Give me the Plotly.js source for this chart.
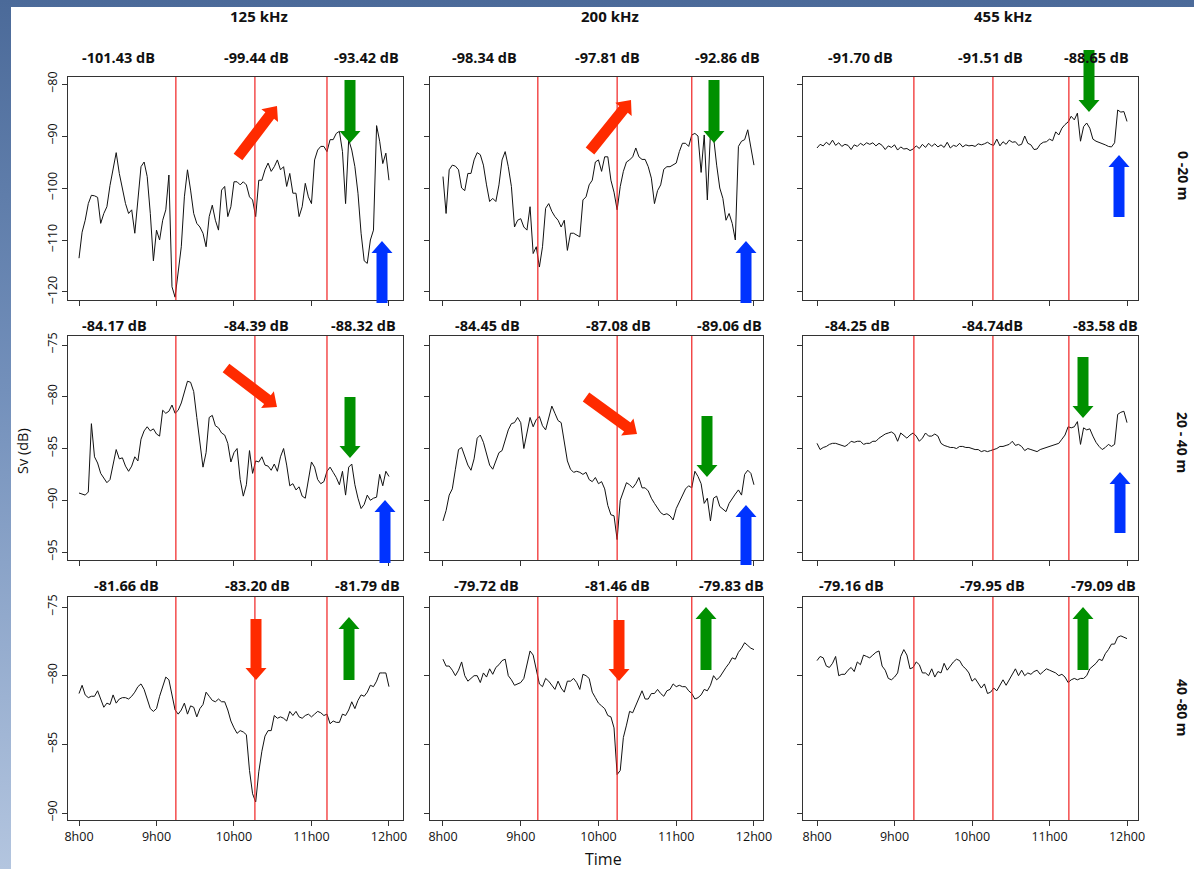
<!DOCTYPE html>
<html><head><meta charset="utf-8">
<script src="https://cdn.plot.ly/plotly-3.0.1.min.js"></script>
<style>
html,body{margin:0;padding:0;overflow:hidden;}
#chart{width:1194px;height:869px;background:linear-gradient(to bottom,#4b6a99 0%,#7390bb 45%,#b3c5df 100%);}
</style></head><body><div id="chart"></div>
<script>
// ---------------- DATA ----------------
const times = [8.00,8.04,8.08,8.12,8.16,8.20,8.24,8.28,8.32,8.36,
8.40,8.44,8.48,8.52,8.56,8.60,8.64,8.68,8.72,8.76,
8.80,8.84,8.88,8.92,8.96,9.00,9.04,9.08,9.12,9.16,
9.20,9.24,9.28,9.32,9.36,9.40,9.44,9.48,9.52,9.56,
9.60,9.64,9.68,9.72,9.76,9.80,9.84,9.88,9.92,9.96,
10.00,10.04,10.08,10.12,10.16,10.20,10.24,10.28,10.32,10.36,
10.40,10.44,10.48,10.52,10.56,10.60,10.64,10.68,10.72,10.76,
10.80,10.84,10.88,10.92,10.96,11.00,11.04,11.08,11.12,11.16,
11.20,11.24,11.28,11.32,11.36,11.40,11.44,11.48,11.52,11.56,
11.60,11.64,11.68,11.72,11.76,11.80,11.84,11.88,11.92,11.96,
12.00];

const frequencies = ["125 kHz","200 kHz","455 kHz"];
const depthLayers = ["0 -20 m","20 - 40 m","40 -80 m"];
const xTickVals = [8,9,10,11,12];
const xTickText = ["8h00","9h00","10h00","11h00","12h00"];
const yTicksByRow = [[-80,-90,-100,-110,-120],[-75,-80,-85,-90,-95],[-75,-80,-85,-90]];
const periodBounds = [[9.25,10.27,11.2],[9.22,10.24,11.2],[9.25,10.27,11.25]];

const sv125_0_20 = [-113.5,-108.5,-106.2,-103,-101.4,-101.5,-101.8,-106.8,-104.9,-103.6,
-99.5,-96.5,-93.2,-97.2,-100.4,-103,-104.9,-104.2,-108.7,-102.3,
-95.9,-95,-97.8,-104.9,-114,-108.1,-110,-106.2,-104.2,-97.5,
-119,-121,-116,-111.3,-101.7,-96.5,-100.4,-104.9,-106.8,-107.5,
-108.7,-111.3,-105.5,-103.3,-106.2,-108.1,-100.4,-99.7,-105.5,-103.6,
-98.8,-98.8,-99.4,-98.8,-99.4,-101.7,-102.3,-105.5,-98.5,-98.5,
-96.5,-95.2,-96.8,-95.9,-94.6,-96.5,-95.9,-99.7,-97.2,-101,
-101,-105.5,-103.6,-99.1,-101.7,-103,-94.6,-92.7,-92,-92,
-93,-90.7,-90.7,-89.5,-89.1,-93,-103,-90.7,-92.7,-95.9,
-101,-108.7,-114,-114.5,-110,-108.1,-88,-91,-95.3,-93.3,
-98.5];
const sv200_0_20 = [-97.8,-104.9,-96.5,-95.6,-95.8,-96.5,-100,-100.5,-97.2,-97.2,
-94.6,-93.2,-93.6,-95.6,-99.4,-102.6,-102,-102.6,-99.4,-94.6,
-93,-95.9,-99.7,-107.5,-106.2,-105.9,-107.5,-108.1,-103.6,-112.6,
-111.3,-115.2,-111.3,-103.9,-103,-104.5,-105.5,-106.2,-107.5,-106.2,
-112,-108.7,-108.7,-109,-109.4,-102.3,-101.7,-99.4,-98.5,-95,
-94.6,-96.8,-94,-94,-98.5,-100.8,-104.2,-99.7,-96.8,-95,
-94.6,-94,-92.3,-94,-94.5,-94.5,-95.9,-98.1,-103,-100.5,
-99.4,-96.4,-95.9,-95.9,-95.6,-95.2,-93,-91.4,-91.4,-92,
-89.8,-89.5,-90,-97,-89.8,-102.3,-89.5,-90.2,-95.6,-100,
-102,-106.2,-104.9,-106.8,-110,-92,-91,-90.7,-88.8,-92,
-95.6];
const sv455_0_20 = [-92.3,-91.6,-91.9,-91.2,-91.7,-90.8,-91.8,-91.3,-92,-91.6,
-91.8,-92.6,-91.7,-92,-91.4,-91.8,-91.3,-91.6,-91.3,-91.9,
-91.4,-91.8,-92.6,-91.9,-92.2,-91.7,-92.7,-92.1,-92.5,-92.4,
-92.8,-92.5,-91.9,-92.4,-91.6,-92.2,-91.4,-92,-91.5,-92.1,
-91.7,-92.2,-91.2,-92.3,-91.8,-92,-91.4,-92.1,-91.7,-91.9,
-91.8,-92,-91.5,-91.7,-91.5,-91.2,-91.6,-91.8,-90.6,-91.9,
-91.1,-91.6,-90.8,-91.2,-91.1,-91.8,-91.6,-90,-91.4,-91.7,
-92.6,-92.5,-91.6,-91.2,-91.1,-90.6,-90.9,-89.2,-89.8,-88.5,
-87.8,-87.3,-86.2,-86.9,-85.6,-91,-88.2,-87.5,-88.5,-90.6,
-91,-91.2,-91.4,-91.7,-92,-92.1,-91.3,-85,-85.4,-85.3,
-87.2];
const sv125_20_40 = [-89.3,-89.4,-89.5,-89.2,-82.6,-85.8,-86.4,-87.4,-87.8,-88.3,
-88,-86.4,-85.1,-86,-85.9,-86.7,-87.2,-86.7,-85.8,-86.2,
-84.1,-83.3,-82.9,-83.3,-83.1,-83.6,-83.8,-81.3,-81.6,-81.4,
-80.8,-81.6,-81.3,-80.6,-79.6,-78.5,-78.6,-79.5,-82,-84.2,
-86.8,-85.4,-82,-81.8,-82.8,-83,-83.5,-83.7,-84.5,-86.3,
-85.4,-85,-88,-89.6,-88.5,-85.2,-87.4,-86.2,-86.3,-85.8,
-86.6,-86.7,-87.1,-86.5,-87.2,-85.8,-85,-86.6,-88.6,-88.4,
-89,-88.7,-89.6,-89.8,-88,-86.3,-86.8,-88,-88.4,-88.2,
-87.2,-86.8,-87.3,-87.8,-88.5,-87.2,-89.5,-86.8,-86.5,-88.5,
-89.8,-90.8,-90.4,-89.5,-90,-89.8,-89.7,-87.5,-88.6,-87.2,
-87.7];
const sv200_20_40 = [-92,-91,-89.5,-88.9,-87,-85.1,-84.9,-85.7,-86.6,-87.1,
-86,-84,-83.7,-84.4,-85.6,-86.6,-87,-86.2,-85.4,-85.2,
-84.3,-83.2,-82.6,-82.5,-82,-82.5,-85,-83.3,-82,-82.9,
-82.2,-81.9,-82.8,-83.2,-82,-80.9,-81.6,-82.3,-82.5,-84.2,
-86.2,-87,-87.3,-87.2,-87.3,-87.5,-87.3,-88,-88.2,-87.8,
-88.4,-88.2,-88.9,-90.5,-91.4,-91.5,-93.8,-90,-89.2,-88.3,
-88.5,-88.8,-88.4,-87.8,-88.8,-88.8,-89.1,-89.8,-90.3,-90.8,
-91.2,-91.4,-91.3,-91.5,-91.9,-90.8,-90.2,-89.6,-88.9,-88.6,
-88.8,-87.2,-87.7,-88.4,-90.3,-89.8,-92,-89.8,-89.6,-90.6,
-90.9,-91.1,-90.3,-89.8,-89.4,-89,-89.5,-87.5,-87.1,-87.4,
-88.5];
const sv455_20_40 = [-84.5,-85.1,-84.9,-84.8,-84.6,-84.5,-84.5,-84.6,-84.7,-84.8,
-84.6,-84.3,-84.4,-84.3,-84.3,-84.6,-84.5,-84.5,-84.3,-84.3,
-84,-83.8,-83.6,-83.5,-83.4,-83.6,-84.3,-83.5,-83.8,-84,
-83.7,-83.5,-83.8,-84.3,-84,-83.5,-83.8,-83.8,-83.6,-83.8,
-84.5,-84.7,-84.8,-84.9,-84.9,-85,-84.8,-84.8,-84.9,-84.9,
-85,-85.1,-85.1,-85.3,-85.2,-85.3,-85.2,-85.1,-85,-84.8,
-84.8,-84.7,-84.6,-84.3,-84.7,-84.6,-84.8,-85.2,-85,-85.1,
-85.2,-85.3,-85.1,-85,-84.9,-84.8,-84.7,-84.6,-84.5,-84.1,
-83.7,-82.9,-83,-82.9,-82.4,-84.6,-83,-83.2,-83.1,-83.8,
-84.4,-84.8,-85.1,-84.9,-84.6,-84.8,-84.6,-81.7,-81.5,-81.4,
-82.5];
const sv125_40_80 = [-81.3,-80.7,-81.4,-81.6,-81.5,-81.5,-81.1,-81.7,-82.3,-82,
-82.1,-81.4,-82,-81.7,-81.6,-81.6,-81.7,-81.5,-81.2,-80.8,
-80.6,-81,-81.8,-82.4,-82.6,-82.4,-81.5,-80.7,-80.1,-80.3,
-81.4,-82.5,-82.8,-82.5,-82,-82.8,-82.2,-82.3,-83,-82.4,
-82.1,-81.2,-81.5,-81.8,-81.9,-81.7,-81.9,-81.9,-82.5,-83.3,
-83.8,-84.2,-84,-84.1,-84.3,-86.9,-88.6,-89.2,-87,-85.5,
-84.4,-84,-84,-82.9,-83.1,-83,-83.1,-83.3,-82.6,-82.9,
-82.6,-83,-83.1,-82.9,-82.8,-83,-82.8,-82.6,-82.7,-82.9,
-82.8,-83.5,-83.3,-83.4,-83.4,-82.8,-82.9,-82.5,-81.9,-82.4,
-81.8,-81.4,-81.5,-81.2,-80.7,-80.8,-80.4,-79.8,-79.8,-79.8,
-80.8];
const sv200_40_80 = [-78.8,-79.3,-79.3,-79.6,-80,-79.6,-79,-80,-80.4,-80.2,
-80,-80,-80.5,-79.8,-80.1,-79.5,-79.9,-79.4,-79.2,-78.9,
-78.8,-80,-80.3,-80.7,-80.6,-80.5,-80.2,-79.2,-78.2,-78.5,
-79.5,-80.6,-80.8,-80.2,-80.4,-80.7,-81,-80.4,-80.9,-81.2,
-80.4,-80.4,-80.2,-80.5,-81,-79.9,-80,-80.2,-81.2,-81.6,
-82,-82.2,-82.4,-82.9,-83,-83.8,-87.2,-86.9,-84.5,-83.6,
-82.6,-82.7,-82.2,-81.6,-81.1,-81.7,-81.7,-81.3,-81.3,-81,
-81.3,-81.5,-81.1,-81,-80.6,-80.8,-80.7,-80.8,-80.8,-81.1,
-81.3,-81.7,-81.6,-81.4,-81,-81.1,-80.7,-80,-80.3,-80.1,
-79.7,-79.4,-79.1,-78.7,-78.8,-78.3,-78,-77.6,-77.8,-78,
-78.1];
const sv455_40_80 = [-78.9,-78.6,-78.7,-79.3,-79.4,-79.1,-78.6,-80,-79.9,-79.9,
-79.6,-79.4,-79.7,-79,-79.2,-78.5,-78.6,-78.7,-78.5,-78.3,
-78.2,-79.3,-79.6,-80.2,-80.3,-80.1,-79.8,-78.6,-78.1,-78.5,
-79.5,-79.4,-79,-79.2,-79.8,-79.8,-80,-79.5,-80.1,-79.7,
-79.8,-79.1,-79.6,-79.3,-79,-78.8,-78.9,-79.3,-79.5,-79.8,
-80.4,-80.2,-80.6,-80.9,-80.6,-81.3,-81.2,-80.9,-81.1,-80.7,
-80.3,-80.7,-80.3,-79.8,-79.5,-80,-79.6,-80,-79.8,-79.9,
-79.7,-79.6,-79.9,-79.7,-79.5,-79.6,-79.7,-79.8,-80,-79.9,
-80.1,-80.5,-80.3,-80.2,-80.3,-80.2,-80.2,-80,-79.5,-79.3,
-79.1,-78.8,-78.9,-78.4,-78.1,-77.7,-77.7,-77.2,-77.1,-77.2,
-77.3];

const panelSeries = [sv125_0_20, sv200_0_20, sv455_0_20,
                     sv125_20_40, sv200_20_40, sv455_20_40,
                     sv125_40_80, sv200_40_80, sv455_40_80];
const periodMeans = [
 ["-101.43 dB","-99.44 dB","-93.42 dB"], ["-98.34 dB","-97.81 dB","-92.86 dB"], ["-91.70 dB","-91.51 dB","-88.65 dB"],
 ["-84.17 dB","-84.39 dB","-88.32 dB"], ["-84.45 dB","-87.08 dB","-89.06 dB"], ["-84.25 dB","-84.74dB","-83.58 dB"],
 ["-81.66 dB","-83.20 dB","-81.79 dB"], ["-79.72 dB","-81.46 dB","-79.83 dB"], ["-79.16 dB","-79.95 dB","-79.09 dB"]];

// ---------------- LAYOUT (pixel geometry) ----------------
const W = 1194, H = 869;
const colPx = [[68,403],[430,763],[803,1138]];
const rowPx = [[77,300],[336,560],[597,820]];
const xRanges = [[7.858,12.181],[7.833,12.116],[7.819,12.142]];
const yRanges = [[-121.54,-78.65],[-95.77,-74.13],[-90.51,-74.27]];
const labelRowY = [57,325,585];
const labelX = [[118,256,366],[484,607,727],[860,991,1096],
                [114,256,363],[487,618,729],[857,992,1105],
                [126,257,367],[486,617,731],[851,992,1103]];
const colTitleX = [259,610,1003];
const rowLabelY = [176,442,708];
const arrowsPx = [
 [238,157,277,106,'red'],[350,80,350,143,'green'],[382,303,382,241,'blue'],
 [590,151,631,100,'red'],[714,80,714,143,'green'],[746,303,746,241,'blue'],
 [1089,50,1089,112,'green'],[1119,217,1119,155,'blue'],
 [226,368,277,407,'red'],[350,397,350,458,'green'],[385,563,385,500,'blue'],
 [586,397,637,434,'red'],[707,416,707,477,'green'],[746,565,746,505,'blue'],
 [1083,357,1083,418,'green'],[1120,533,1120,472,'blue'],
 [256,619,256,680,'red'],[349,680,349,617,'green'],
 [619,620,619,681,'red'],[706,670,706,607,'green'],
 [1083,670,1083,607,'green']];
const arrowColors = {red:'#ff2b00', green:'#009000', blue:'#0033ff'};

const FONT = '"Open Sans", "Noto Sans", sans-serif';
const fx = p => p / W;
const fy = p => 1 - p / H;

const traces = [];
const layout = {
  width: W, height: H,
  margin: {l:0, r:0, t:0, b:0},
  paper_bgcolor: 'rgba(0,0,0,0)',
  plot_bgcolor: '#ffffff',
  showlegend: false,
  font: {family: FONT, color: '#111', size: 12},
  shapes: [], annotations: []
};
// white sheet
layout.shapes.push({type:'rect', xref:'paper', yref:'paper', x0:fx(11), x1:1, y0:0, y1:fy(7),
  fillcolor:'#ffffff', line:{width:0}, layer:'below'});

for (let i = 0; i < 9; i++) {
  const r = Math.floor(i/3), c = i % 3;
  const sfx = i === 0 ? '' : String(i+1);
  traces.push({x: times, y: panelSeries[i], xaxis: 'x'+sfx, yaxis: 'y'+sfx,
    type: 'scatter', mode: 'lines', line: {color: '#111', width: 1}, hoverinfo: 'skip'});
  layout['xaxis'+sfx] = {
    domain: [fx(colPx[c][0]), fx(colPx[c][1])], range: xRanges[c], anchor: 'y'+sfx,
    tickmode: 'array', tickvals: xTickVals, ticktext: xTickText,
    showticklabels: r === 2, ticks: 'outside', ticklen: 5, tickcolor: '#333', tickwidth: 1,
    showline: true, mirror: true, linecolor: '#333', linewidth: 1,
    showgrid: false, zeroline: false, fixedrange: true,
    tickfont: {family: FONT, size: 12.5, color: '#111'}
  };
  layout['yaxis'+sfx] = {
    domain: [fy(rowPx[r][1]), fy(rowPx[r][0])], range: yRanges[r], anchor: 'x'+sfx,
    tickmode: 'array', tickvals: yTicksByRow[r],
    showticklabels: c === 0, tickangle: -90, ticks: 'outside', ticklen: 5, tickcolor: '#333', tickwidth: 1,
    showline: true, mirror: true, linecolor: '#333', linewidth: 1,
    showgrid: false, zeroline: false, fixedrange: true,
    tickfont: {family: FONT, size: 12.5, color: '#111'}
  };
  periodBounds[c].forEach(t => layout.shapes.push({type:'line', xref:'x'+sfx, yref:'y'+sfx+' domain',
    x0:t, x1:t, y0:0, y1:1, line:{color:'#f02020', width:1.2}, layer:'above'}));
  periodMeans[i].forEach((txt, j) => layout.annotations.push({text: txt, xref:'paper', yref:'paper',
    x: fx(labelX[i][j]), y: fy(labelRowY[r]), xanchor:'center', yanchor:'middle', showarrow:false,
    font:{family: FONT, size: 14.5, color:'#111', weight: 700}}));
}
frequencies.forEach((t, c) => layout.annotations.push({text: t, xref:'paper', yref:'paper',
  x: fx(colTitleX[c]), y: fy(16), xanchor:'center', yanchor:'middle', showarrow:false,
  font:{family: FONT, size: 15, color:'#111', weight: 700}}));
depthLayers.forEach((t, r) => layout.annotations.push({text: t, xref:'paper', yref:'paper',
  x: fx(1183), y: fy(rowLabelY[r]), xanchor:'center', yanchor:'middle', showarrow:false, textangle: 90,
  borderpad: 0, font:{family: FONT, size: 14, color:'#111', weight: 700}}));
layout.annotations.push({text:'Sv (dB)', xref:'paper', yref:'paper', x: fx(22), y: fy(451),
  xanchor:'center', yanchor:'middle', showarrow:false, textangle:-90, font:{family: FONT, size: 14.5, color:'#111'}});
layout.annotations.push({text:'Time', xref:'paper', yref:'paper', x: fx(603), y: fy(859),
  xanchor:'center', yanchor:'middle', showarrow:false, font:{family: FONT, size: 16, color:'#111'}});

function arrowPath(x0, y0, x1, y1) {
  const dx = x1-x0, dy = y1-y0, L = Math.hypot(dx, dy);
  const ux = dx/L, uy = dy/L, nx = -uy, ny = ux;
  const sw = 5.5, hw = 10.5, hl = 12;
  const bx = x1 - ux*hl, by = y1 - uy*hl;
  const pts = [[x0+nx*sw, y0+ny*sw],[bx+nx*sw, by+ny*sw],[bx+nx*hw, by+ny*hw],[x1, y1],
               [bx-nx*hw, by-ny*hw],[bx-nx*sw, by-ny*sw],[x0-nx*sw, y0-ny*sw]];
  return 'M' + pts.map(p => fx(p[0]).toFixed(5) + ',' + fy(p[1]).toFixed(5)).join(' L') + ' Z';
}
arrowsPx.forEach(a => layout.shapes.push({type:'path', xref:'paper', yref:'paper',
  path: arrowPath(a[0],a[1],a[2],a[3]), fillcolor: arrowColors[a[4]], line:{width:0}, layer:'above'}));

Plotly.newPlot('chart', traces, layout, {staticPlot: true, displayModeBar: false});
</script></body></html>
